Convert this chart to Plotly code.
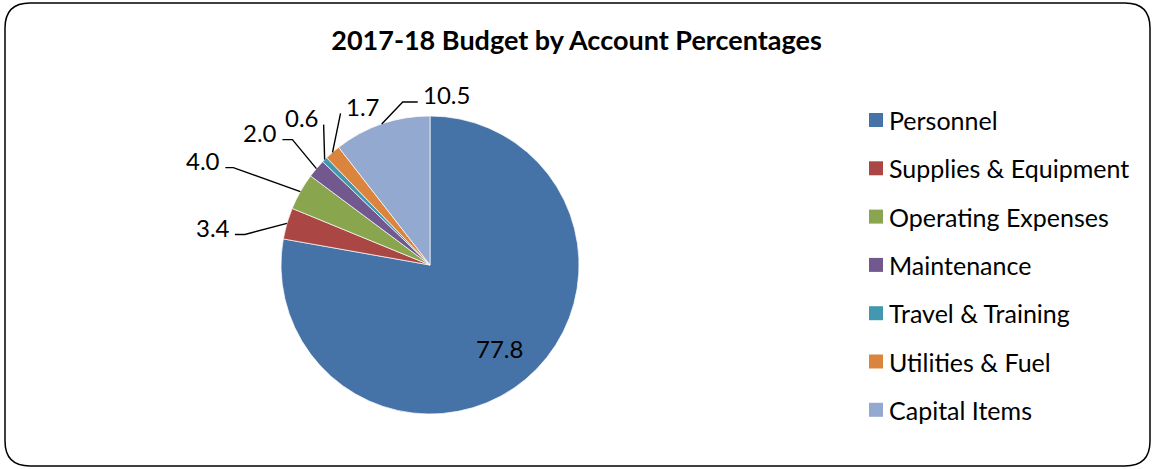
import math
import plotly.graph_objects as go

# ---- data ----
categories = ["Personnel", "Supplies & Equipment", "Operating Expenses", "Maintenance",
              "Travel & Training", "Utilities & Fuel", "Capital Items"]
values = [77.8, 3.4, 4.0, 2.0, 0.6, 1.7, 10.5]
value_labels = ["77.8", "3.4", "4.0", "2.0", "0.6", "1.7", "10.5"]
title_text = "2017-18 Budget by Account Percentages"

# ---- style ----
colors = ["#4572A7", "#AA4643", "#89A54E", "#71588F", "#4198AF", "#DB843D", "#93A9CF"]
W, H = 1153, 469
CX, CY, R = 430, 265, 149
FONT = "Lato"
LBL_SIZE = 24
LEG_SIZE = 25

# leader-line styling per slice: (elbow dx, elbow dy, tail, label side)
leader_style = [None, (-42, 11, -10, "right"), (-67, -24, -8, "right"), (-24, -29, -10, "right"),
                (-1, -35, 0, "right"), (8, -39, 0, "left"), (21, -22, 15, "left")]
inside_frac = 0.73


def X(px):
    return px / W


def Y(py):
    return 1 - py / H


fig = go.Figure()
fig.add_trace(go.Pie(
    labels=categories, values=values, sort=False, direction="clockwise", rotation=0,
    marker=dict(colors=colors, line=dict(color="white", width=0.7)),
    textinfo="none", hoverinfo="label+value", showlegend=False,
    domain=dict(x=[X(CX - R), X(CX + R)], y=[Y(CY + R), Y(CY - R)]),
))

shapes = []
annotations = []
total = sum(values)
cum = 0.0
for i, v in enumerate(values):
    mid = (cum + v / 2) / total * 2 * math.pi
    cum += v
    sx, sy = math.sin(mid), -math.cos(mid)
    if leader_style[i] is None:
        tx, ty = CX + inside_frac * R * sx, CY + inside_frac * R * sy
        annotations.append(dict(x=X(tx), y=Y(ty), xref="paper", yref="paper", text=value_labels[i],
                                showarrow=False, xanchor="center", yanchor="middle",
                                font=dict(family=FONT, size=LBL_SIZE, color="black")))
        continue
    ex, ey = CX + R * sx, CY + R * sy
    dx, dy, tail, side = leader_style[i]
    bx, by = ex + dx, ey + dy
    fx, fy = bx + tail, by
    path = f"M {X(ex)},{Y(ey)} L {X(bx)},{Y(by)} L {X(fx)},{Y(fy)}"
    shapes.append(dict(type="path", path=path, xref="paper", yref="paper",
                       line=dict(color="black", width=1.4)))
    gap = 3
    lx = fx - gap if side == "right" else fx + gap
    annotations.append(dict(x=X(lx), y=Y(fy - 0.3 * LBL_SIZE), xref="paper", yref="paper",
                            text=value_labels[i], showarrow=False,
                            xanchor="right" if side == "right" else "left", yanchor="middle",
                            font=dict(family=FONT, size=LBL_SIZE, color="black")))

# manual legend
LEG_X, LEG_Y0, LEG_DY, SQ = 869, 120, 48.3, 14
for i, name in enumerate(categories):
    yc = LEG_Y0 + i * LEG_DY
    shapes.append(dict(type="rect", xref="paper", yref="paper",
                       x0=X(LEG_X), x1=X(LEG_X + SQ), y0=Y(yc + SQ / 2), y1=Y(yc - SQ / 2),
                       fillcolor=colors[i], line=dict(width=0)))
    annotations.append(dict(x=X(LEG_X + SQ + 4), y=Y(yc), xref="paper", yref="paper", text=name,
                            showarrow=False, xanchor="left", yanchor="middle",
                            font=dict(family=FONT, size=LEG_SIZE, color="black")))

# rounded border
bl, bt, br, bb, rr = 5, 3, 1150, 466, 25
border = (f"M {X(bl + rr)},{Y(bt)} L {X(br - rr)},{Y(bt)} Q {X(br)},{Y(bt)} {X(br)},{Y(bt + rr)} "
          f"L {X(br)},{Y(bb - rr)} Q {X(br)},{Y(bb)} {X(br - rr)},{Y(bb)} "
          f"L {X(bl + rr)},{Y(bb)} Q {X(bl)},{Y(bb)} {X(bl)},{Y(bb - rr)} "
          f"L {X(bl)},{Y(bt + rr)} Q {X(bl)},{Y(bt)} {X(bl + rr)},{Y(bt)} Z")
shapes.append(dict(type="path", path=border, xref="paper", yref="paper",
                   line=dict(color="black", width=1.5)))

fig.update_layout(
    width=W, height=H, autosize=False,
    margin=dict(l=0, r=0, t=0, b=0),
    paper_bgcolor="white", plot_bgcolor="white",
    title=dict(text="<b>" + title_text + "</b>", x=0.5, xanchor="center", y=Y(41), yanchor="middle",
               font=dict(family=FONT, size=27, color="black")),
    shapes=shapes, annotations=annotations,
)

fig.write_html("out.html", config={"displayModeBar": False},
               post_script="document.body.style.margin='0';document.body.style.overflow='hidden';")
